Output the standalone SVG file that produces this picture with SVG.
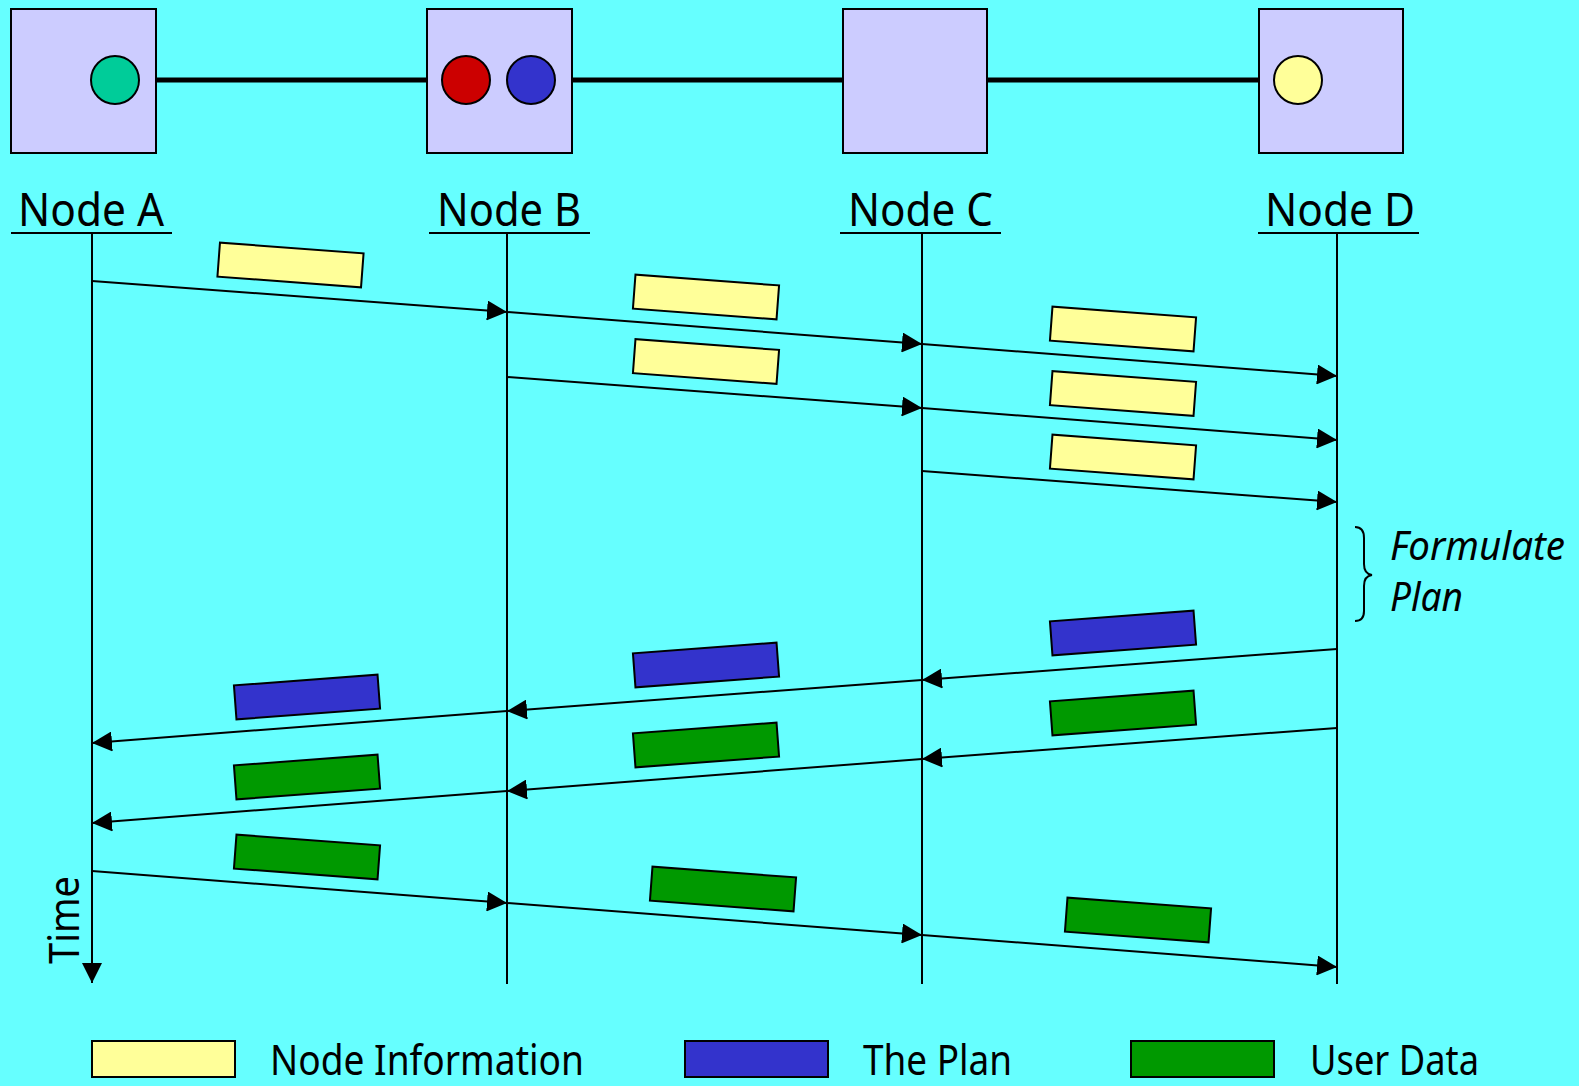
<svg xmlns="http://www.w3.org/2000/svg" width="1579" height="1086" viewBox="0 0 1579 1086">
  <style>
    .box { fill: #CCCCFF; stroke: #000; stroke-width: 2; }
    .dot { stroke: #000; stroke-width: 2; }
    .life { stroke: #000; stroke-width: 2; fill: none; }
    .msg { stroke: #000; stroke-width: 2; fill: none; marker-end: url(#arrow); }
    .pkt { stroke: #000; stroke-width: 2; }
    .info { fill: #FFFF99; }
    .plan { fill: #3333CC; }
    .data { fill: #009900; }
    .lbl { font-family: "Noto Sans", "Open Sans", sans-serif; font-size: 46px; fill: #000; }
    .leg { font-family: "Noto Sans", "Open Sans", sans-serif; font-size: 42px; fill: #000; }
    .note { font-family: "Noto Sans", "Open Sans", sans-serif; font-size: 40px; font-style: italic; fill: #000; }
  </style>
  <defs>
    <marker id="arrow" viewBox="0 0 20 20" refX="20" refY="10" markerWidth="20" markerHeight="20" markerUnits="userSpaceOnUse" orient="auto">
      <path d="M0,0 L20,10 L0,20 Z" fill="#000"/>
    </marker>
    <rect id="pk" x="-72" y="-17" width="144" height="34"/>
  </defs>

  <rect width="1579" height="1086" fill="#66FFFF"/>

  <!-- network link between the nodes -->
  <line x1="156" y1="80" x2="1259" y2="80" stroke="#000" stroke-width="5"/>

  <g id="nodeA">
    <rect class="box" x="11" y="9" width="145" height="144"/>
    <circle class="dot" cx="115" cy="80" r="24" fill="#00CC99"/>
    <text class="lbl" x="18" y="226" textLength="146" lengthAdjust="spacingAndGlyphs">Node A</text>
    <line class="life" x1="11" y1="233" x2="172" y2="233"/>
  </g>
  <g id="nodeB">
    <rect class="box" x="427" y="9" width="145" height="144"/>
    <circle class="dot" cx="466" cy="80" r="24" fill="#CC0000"/>
    <circle class="dot" cx="531" cy="80" r="24" fill="#3333CC"/>
    <text class="lbl" x="437" y="226" textLength="144" lengthAdjust="spacingAndGlyphs">Node B</text>
    <line class="life" x1="429" y1="233" x2="590" y2="233"/>
  </g>
  <g id="nodeC">
    <rect class="box" x="843" y="9" width="144" height="144"/>
    <text class="lbl" x="848" y="226" textLength="145" lengthAdjust="spacingAndGlyphs">Node C</text>
    <line class="life" x1="840" y1="233" x2="1001" y2="233"/>
  </g>
  <g id="nodeD">
    <rect class="box" x="1259" y="9" width="144" height="144"/>
    <circle class="dot" cx="1298" cy="80" r="24" fill="#FFFF99"/>
    <text class="lbl" x="1265" y="226" textLength="150" lengthAdjust="spacingAndGlyphs">Node D</text>
    <line class="life" x1="1258" y1="233" x2="1419" y2="233"/>
  </g>

  <!-- lifelines -->
  <g id="lifelines">
    <line class="msg" x1="92" y1="233" x2="92" y2="983"/>
    <line class="life" x1="507" y1="233" x2="507" y2="984"/>
    <line class="life" x1="922" y1="233" x2="922" y2="984"/>
    <line class="life" x1="1337" y1="233" x2="1337" y2="984"/>
  </g>

  <g id="time-label">
    <text class="leg" transform="translate(79,964) rotate(-90)" textLength="88" lengthAdjust="spacingAndGlyphs">Time</text>
  </g>

  <!-- messages -->
  <g id="connectors">
    <line class="msg" x1="92" y1="281" x2="507" y2="312"/>
    <line class="msg" x1="507" y1="312" x2="922" y2="344"/>
    <line class="msg" x1="922" y1="344" x2="1337" y2="376"/>
    <line class="msg" x1="507" y1="377" x2="922" y2="408"/>
    <line class="msg" x1="922" y1="408" x2="1337" y2="440"/>
    <line class="msg" x1="922" y1="471" x2="1337" y2="502"/>

    <line class="msg" x1="1337" y1="649" x2="922" y2="680"/>
    <line class="msg" x1="922" y1="680" x2="507" y2="711"/>
    <line class="msg" x1="507" y1="711" x2="92" y2="743"/>

    <line class="msg" x1="1337" y1="728" x2="922" y2="759"/>
    <line class="msg" x1="922" y1="759" x2="507" y2="791"/>
    <line class="msg" x1="507" y1="791" x2="92" y2="823"/>

    <line class="msg" x1="92" y1="871" x2="507" y2="903"/>
    <line class="msg" x1="507" y1="903" x2="922" y2="935"/>
    <line class="msg" x1="922" y1="935" x2="1337" y2="967"/>
  </g>

  <!-- packets carried by the messages -->
  <g id="packets">
    <use href="#pk" class="pkt info" transform="translate(290.5,265) rotate(4.3)"/>
    <use href="#pk" class="pkt info" transform="translate(706,297) rotate(4.3)"/>
    <use href="#pk" class="pkt info" transform="translate(1123,329) rotate(4.3)"/>
    <use href="#pk" class="pkt info" transform="translate(706,361.5) rotate(4.3)"/>
    <use href="#pk" class="pkt info" transform="translate(1123,393.5) rotate(4.3)"/>
    <use href="#pk" class="pkt info" transform="translate(1123,457) rotate(4.3)"/>

    <use href="#pk" class="pkt plan" transform="translate(1123,633) rotate(-4.3)"/>
    <use href="#pk" class="pkt plan" transform="translate(706,665) rotate(-4.3)"/>
    <use href="#pk" class="pkt plan" transform="translate(307,697) rotate(-4.3)"/>

    <use href="#pk" class="pkt data" transform="translate(1123,713) rotate(-4.3)"/>
    <use href="#pk" class="pkt data" transform="translate(706,745) rotate(-4.3)"/>
    <use href="#pk" class="pkt data" transform="translate(307,777) rotate(-4.3)"/>

    <use href="#pk" class="pkt data" transform="translate(307,857) rotate(4.3)"/>
    <use href="#pk" class="pkt data" transform="translate(723,889) rotate(4.3)"/>
    <use href="#pk" class="pkt data" transform="translate(1138,920) rotate(4.3)"/>
  </g>

  <!-- planning step at node D -->
  <g id="formulate-plan">
    <path d="M1355,527 Q1364,527 1364,538 L1364,564 Q1364,574 1372,575 Q1364,576 1364,586 L1364,611 Q1364,621 1355,621" fill="none" stroke="#000" stroke-width="2"/>
    <text class="note" x="1390" y="560" textLength="175" lengthAdjust="spacingAndGlyphs">Formulate</text>
    <text class="note" x="1390" y="611" textLength="73" lengthAdjust="spacingAndGlyphs">Plan</text>
  </g>

  <!-- legend -->
  <g id="legend">
    <rect class="pkt info" x="92" y="1041" width="143" height="36"/>
    <text class="leg" x="270" y="1075" textLength="314" lengthAdjust="spacingAndGlyphs">Node Information</text>
    <rect class="pkt plan" x="685" y="1041" width="143" height="36"/>
    <text class="leg" x="863" y="1075" textLength="149" lengthAdjust="spacingAndGlyphs">The Plan</text>
    <rect class="pkt data" x="1131" y="1041" width="143" height="36"/>
    <text class="leg" x="1310" y="1075" textLength="169" lengthAdjust="spacingAndGlyphs">User Data</text>
  </g>
</svg>
